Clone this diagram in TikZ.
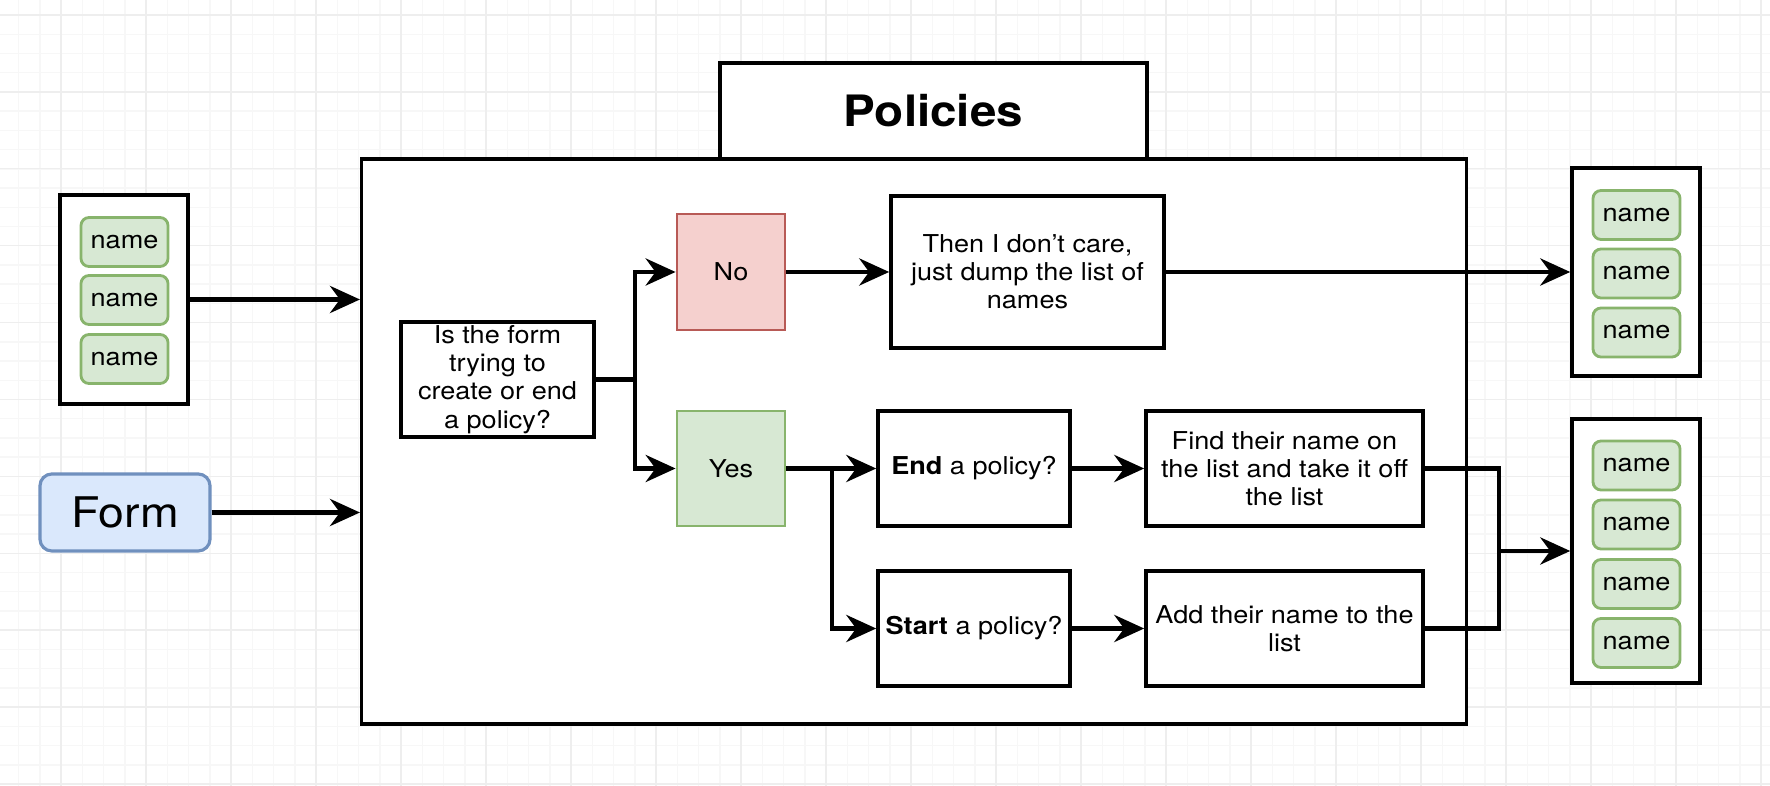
\documentclass[tikz,border=0pt]{standalone}
\usepackage{fontspec}
\setmainfont{TeX Gyre Heros}[FakeStretch=1.1]
\usetikzlibrary{arrows.meta}
\definecolor{nameG}{RGB}{215,232,211}
\definecolor{nameGd}{RGB}{136,180,108}
\definecolor{noR}{RGB}{245,208,206}
\definecolor{noRd}{RGB}{184,90,86}
\definecolor{formB}{RGB}{218,232,252}
\definecolor{formBd}{RGB}{112,144,190}

\begin{document}
\begin{tikzpicture}[x=0.01cm,y=-0.01cm,>={Stealth[length=8.5pt,width=7.7pt,inset=2.8pt]},
  box/.style={draw,line width=1pt,fill=white,align=center,inner sep=1pt,font=\fontsize{7}{8}\selectfont},
  namebox/.style={draw=nameGd,fill=nameG,line width=0.8pt,rounded corners=2.3pt,minimum width=0.87cm,minimum height=0.49cm,inner sep=0pt,font=\fontsize{7}{8}\selectfont},
  formbox/.style={draw=formBd,fill=formB,line width=0.9pt,rounded corners=3.4pt,minimum width=1.7cm,minimum height=0.77cm,font=\fontsize{12}{14}\selectfont},
  flow/.style={->,line width=1.3pt},
  gridmin/.style={gray!6,line width=0.4pt},
  gridmaj/.style={gray!13,line width=0.4pt}]
\useasboundingbox (0,0) rectangle (1770,786);
\fill[white] (0,0) rectangle (1770,786);
% grid of the drawing canvas
\begin{scope}
\clip (0,0) rectangle (1770,786);
\foreach \i in {0,...,84} \draw[gridmin] ({-2.6+21.25*\i},0) -- ({-2.6+21.25*\i},786);
\foreach \j in {0,...,41} \draw[gridmin] (0,{-4.2+19.225*\j}) -- (1770,{-4.2+19.225*\j});
\foreach \i in {0,...,21} \draw[gridmaj] ({61+85*\i},0) -- ({61+85*\i},786);
\foreach \j in {0,...,10} \draw[gridmaj] (0,{15+76.9*\j}) -- (1770,{15+76.9*\j});
\end{scope}

% incoming list and form
\node[box,minimum width=1.28cm,minimum height=2.09cm] (lstIn) at (124,299.5) {};
\foreach \y [count=\k] in {242,300,359} \node[namebox] (in\k) at (124.5,\y) {name};
\node[formbox] (form) at (125,512.5) {Form};

% policies area
\node[box,minimum width=11.04cm,minimum height=5.65cm] (area) at (914,441.5) {};
\node[box,minimum width=4.27cm,minimum height=0.96cm,font=\bfseries\fontsize{12.3}{14}\selectfont] (title) at (933.5,111) {Policies};

\node[box,minimum width=1.93cm,minimum height=1.15cm] (ask) at (497.5,379.5) {Is the form\\trying to\\create or end\\a policy?};
\node[box,draw=noRd,fill=noR,line width=0.8pt,minimum width=1.08cm,minimum height=1.16cm] (no) at (731,272) {No};
\node[box,draw=nameGd,fill=nameG,line width=0.8pt,minimum width=1.08cm,minimum height=1.15cm] (yes) at (731,468.5) {Yes};
\node[box,minimum width=2.73cm,minimum height=1.52cm] (dump) at (1027.5,272) {Then I don't care,\\just dump the list of\\names};
\node[box,minimum width=1.92cm,minimum height=1.15cm] (endq) at (974,468.5) {\textbf{End} a policy?};
\node[box,minimum width=1.92cm,minimum height=1.15cm] (startq) at (974,628.5) {\textbf{Start} a policy?};
\node[box,minimum width=2.77cm,minimum height=1.15cm] (find) at (1284.5,468.5) {Find their name on\\the list and take it off\\the list};
\node[box,minimum width=2.77cm,minimum height=1.15cm] (add) at (1284.5,628.5) {Add their name to the\\list};

% outgoing lists
\node[box,minimum width=1.28cm,minimum height=2.08cm] (lstA) at (1636,272) {};
\foreach \y [count=\k] in {215,273.5,332.5} \node[namebox] (a\k) at (1636.5,\y) {name};
\node[box,minimum width=1.28cm,minimum height=2.64cm] (lstB) at (1636,551) {};
\foreach \y [count=\k] in {465.5,524.5,584,643} \node[namebox] (b\k) at (1636.5,\y) {name};

\coordinate (askSplit) at (635,379.5);
\coordinate (yesSplit) at (832,468.5);
\coordinate (outMerge) at (1499,551);

\draw[flow] (lstIn.east) -- (lstIn.east -| area.west);
\draw[flow] (form.east) -- (form.east -| area.west);
\draw[line width=1.3pt] (ask.east) -- (askSplit);
\draw[flow] (askSplit) |- (no.west);
\draw[flow] (askSplit) |- (yes.west);
\draw[flow] (no.east) -- (dump.west);
\draw[flow] (dump.east) -- (lstA.west);
\draw[flow] (yes.east) -- (endq.west);
\draw[flow] (yesSplit) |- (startq.west);
\draw[flow] (endq.east) -- (find.west);
\draw[flow] (startq.east) -- (add.west);
\draw[line width=1.3pt] (find.east) -| (outMerge) |- (add.east);
\draw[flow] (outMerge) -- (lstB.west);
\end{tikzpicture}
\end{document}
